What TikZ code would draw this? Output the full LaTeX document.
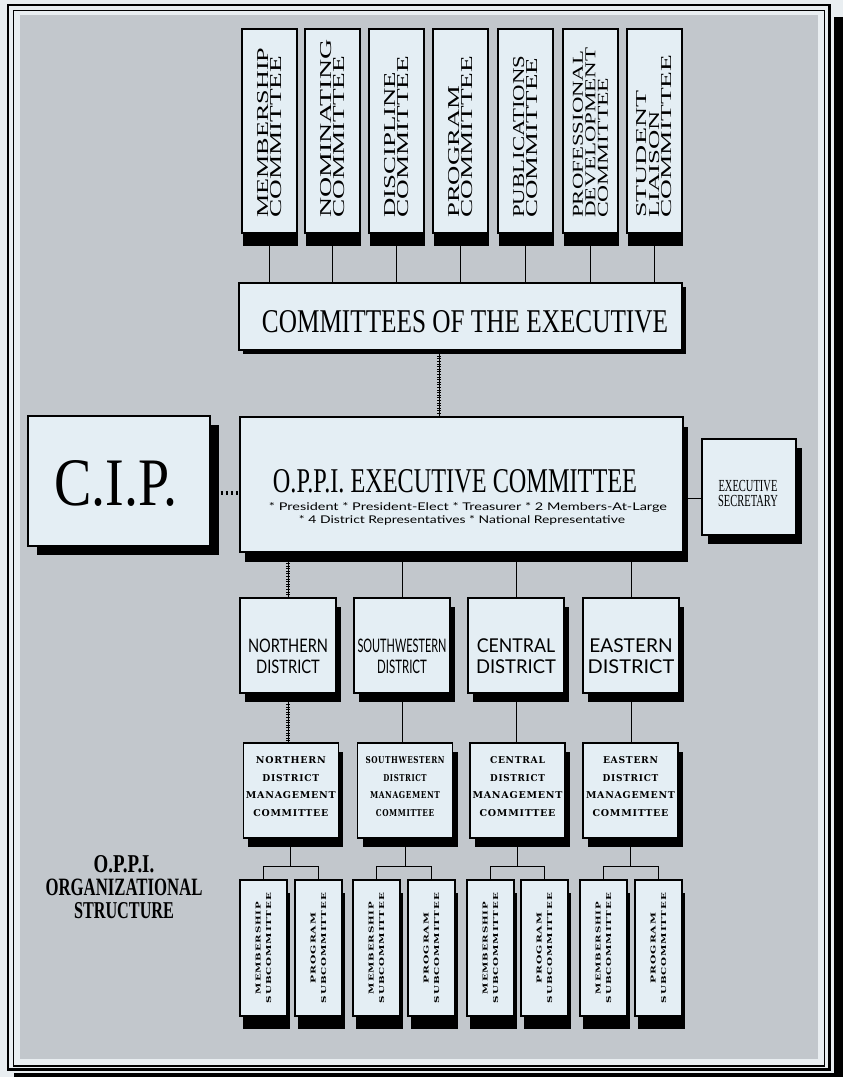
\documentclass[tikz,border=0pt]{standalone}
\usepackage{fontspec}
\usepackage{graphicx}
\setmainfont{Liberation Serif}
\newfontfamily\optfont{Lato}
\newfontfamily\cpfont[LetterSpace=8]{DejaVu Serif}
\usetikzlibrary{shadows}
% one drawing unit = one pixel of the 843 x 1077 sheet
\newdimen\upx \upx=0.75pt
% a line of text squeezed to a given width and cap height (in pixels)
\newcommand\fw[3]{\resizebox{#1\upx}{#2\upx}{#3}}
\definecolor{paper}{HTML}{E9EEF1}
\definecolor{screen}{HTML}{C2C7CC}
\definecolor{boxfill}{HTML}{E4EEF4}
\begin{document}
\begin{tikzpicture}[x=0.75pt,y=-0.75pt,
  card/.style={draw=black, line width=.8pt, fill=boxfill, inner sep=0pt},
  shad/.style 2 args={drop shadow={shadow xshift=#1, shadow yshift=#2, opacity=1, fill=black}},
  txt/.style={inner sep=0pt, align=center},
  vtext/.style={rotate=90, anchor=west, align=left, inner sep=0pt, font=\fontsize{12}{10.125}\selectfont},
  vtextthree/.style={vtext, font=\fontsize{12}{9.375}\selectfont},
  dtext/.style={txt, anchor=north, font=\optfont\fontsize{14}{15.75}\selectfont},
  mtext/.style={txt, anchor=north, font=\cpfont\bfseries\fontsize{8}{13.125}\selectfont},
  stext/.style={txt, rotate=90, font=\cpfont\bfseries\fontsize{6}{7.875}\selectfont},
  conn/.style={line width=.75pt},
  ladder/.style={conn, postaction={draw, line width=3.2pt, dash pattern=on .35pt off 1.6pt}},
  dotline/.style={line width=2.4pt, dash pattern=on 1.9pt off 1.9pt}]

\useasboundingbox (0,0) rectangle (843,1077);

% sheet, screened panel and double frame with its heavy shadow
\fill[paper] (0,0) rectangle (843,1077);
\fill[black] (834,17) rectangle (843,1077);
\fill[black] (14,1073) rectangle (843,1077);
\fill[screen] (20,15) rectangle (818,1059);
\draw[line width=1pt] (13.5,10.5) rectangle (824.5,1066);
\draw[line width=2.2pt] (8,5) rectangle (829.5,1069.5);

% standing committees
\foreach \x [count=\i] in {269.5,332.5,396.5,460.5,525.5,590.5,654.5}
  \node[card, shad={1.1pt}{-9.75pt}, minimum width=41.25pt, minimum height=153pt] (c\i) at (\x,131) {};
\node[vtext] (t1) at (269.5,218) {\fw{170}{11}{MEMBERSHIP}\\\fw{162}{11}{COMMITTEE}};
\node[vtext] (t2) at (332.5,218) {\fw{178}{11}{NOMINATING}\\\fw{162}{11}{COMMITTEE}};
\node[vtext] (t3) at (396.5,218) {\fw{146}{11}{DISCIPLINE}\\\fw{162}{11}{COMMITTEE}};
\node[vtext] (t4) at (460.5,218) {\fw{132}{11}{PROGRAM}\\\fw{162}{11}{COMMITTEE}};
\node[vtext] (t5) at (525.5,218) {\fw{162}{11}{PUBLICATIONS}\\\fw{160}{11}{COMMITTEE}};
\node[vtextthree] (t6) at (590.5,218) {\fw{167}{10}{PROFESSIONAL}\\\fw{170}{10}{DEVELOPMENT}\\\fw{140}{10}{COMMITTEE}};
\node[vtextthree] (t7) at (654.5,218) {\fw{127}{10}{STUDENT}\\\fw{107}{10}{LIAISON}\\\fw{163}{10}{COMMITTEE}};

% committees of the executive
\node[card, shad={3pt}{-3pt}, minimum width=332.25pt, minimum height=50.25pt] (coe) at (460.5,316.5) {};
\node[txt, anchor=base] (coetext) at (465,332) {\fw{406}{22}{COMMITTEES OF THE EXECUTIVE}};

% C.I.P.
\node[card, shad={7pt}{-6.75pt}, minimum width=136.5pt, minimum height=97.5pt] (cip) at (119,481) {};
\node[txt, anchor=base] (ciptext) at (115.5,505) {\fw{123}{45}{C.I.P.}};

% executive committee
\node[card, shad={3.75pt}{-7.5pt}, minimum width=332.25pt, minimum height=101.25pt] (exec) at (461.5,484.5) {};
\node[txt, anchor=base] (extitle) at (455,492) {\fw{364}{23}{O.P.P.I. EXECUTIVE COMMITTEE}};
\node[txt, anchor=base, font=\optfont] (exb1) at (468,510) {\fw{398}{8}{* President * President-Elect * Treasurer * 2 Members-At-Large}};
\node[txt, anchor=base, font=\optfont] (exb2) at (462,523.5) {\fw{326}{8}{* 4 District Representatives * National Representative}};

% executive secretary
\node[card, shad={4.5pt}{-6.75pt}, minimum width=70.5pt, minimum height=72pt] (sec) at (749,487) {};
\node[txt, anchor=north, font=\fontsize{10}{11.25}\selectfont] (sectext) at (748,480) {\fw{59}{11.2}{EXECUTIVE}\\\fw{60}{11.2}{SECRETARY}};

% districts
\foreach \x [count=\i] in {288,402,516,631}
  \node[card, shad={3.75pt}{-6.75pt}, minimum width=72pt, minimum height=71.25pt] (d\i) at (\x,645.5) {};
\node[dtext] (dt1) at (288,638.5) {\fw{80}{13.5}{NORTHERN}\\\fw{63.7}{13.5}{DISTRICT}};
\node[dtext] (dt2) at (402,638.5) {\fw{89}{13.5}{SOUTHWESTERN}\\\fw{49.7}{13.5}{DISTRICT}};
\node[dtext] (dt3) at (516,638.5) {\fw{78.3}{13.8}{CENTRAL}\\\fw{80}{13.8}{DISTRICT}};
\node[dtext] (dt4) at (631,638.5) {\fw{83.3}{13.8}{EASTERN}\\\fw{86.7}{13.8}{DISTRICT}};

% district management committees
\foreach \x [count=\i] in {290.8,405,517.5,630.5}
  \node[card, shad={3.75pt}{-6.75pt}, minimum width=71.25pt, minimum height=71.25pt] (m\i) at (\x,790.5) {};
\node[mtext] (mt1) at (290.8,756.5) {\fw{70}{7}{NORTHERN}\\\fw{56.7}{7}{DISTRICT}\\\fw{90}{7}{MANAGEMENT}\\\fw{75}{7}{COMMITTEE}};
\node[mtext] (mt2) at (405,756.5) {\fw{79}{7}{SOUTHWESTERN}\\\fw{43.3}{7}{DISTRICT}\\\fw{70}{7}{MANAGEMENT}\\\fw{58.3}{7}{COMMITTEE}};
\node[mtext] (mt3) at (517.5,756.5) {\fw{55}{7}{CENTRAL}\\\fw{54.7}{7}{DISTRICT}\\\fw{90}{7}{MANAGEMENT}\\\fw{76}{7}{COMMITTEE}};
\node[mtext] (mt4) at (630.5,756.5) {\fw{55}{7}{EASTERN}\\\fw{55.7}{7}{DISTRICT}\\\fw{89}{7}{MANAGEMENT}\\\fw{76}{7}{COMMITTEE}};

% subcommittees
\foreach \x [count=\i] in {263.5,318.5,376.5,431.5,490.5,544.5,603.5,658.5}
  \node[card, shad={2.25pt}{-9.75pt}, minimum width=35.25pt, minimum height=102pt] (s\i) at (\x,948) {};
\foreach \i in {1,3,5,7}
  \node[stext] (st\i) at (s\i) {\fw{92}{5}{MEMBERSHIP}\\\fw{110}{5}{SUBCOMMITTEE}};
\foreach \i in {2,4,6,8}
  \node[stext] (st\i) at (s\i) {\fw{70}{5}{PROGRAM}\\\fw{110}{5}{SUBCOMMITTEE}};

% caption
\node[txt, anchor=north, font=\bfseries\fontsize{20}{17.25}\selectfont] (caption) at (124,855.5)
  {\fw{60.6}{17}{O.P.P.I.}\\\fw{157}{16.5}{ORGANIZATIONAL}\\\fw{100}{16}{STRUCTURE}};

% connectors
\foreach \i in {1,...,7}
  \draw[conn] (c\i.south) -- (c\i.south |- coe.north);
\coordinate (spine) at (439,385);
\draw[ladder] (spine |- coe.south) -- (spine |- exec.north);
\coordinate (cipy) at (225,493);
\draw[dotline] (cip.east |- cipy) -- (exec.west |- cipy);
\coordinate (secy) at (692,498);
\draw[conn] (exec.east |- secy) -- (sec.west |- secy);
\draw[ladder] (d1.north |- exec.south) -- (d1.north);
\foreach \i in {2,3,4}
  \draw[conn] (d\i.north |- exec.south) -- (d\i.north);
\draw[ladder] (d1.south) -- (d1.south |- m1.north);
\foreach \i in {2,3,4}
  \draw[conn] (d\i.south) -- (d\i.south |- m\i.north);
\coordinate (bar) at (0,866);
\foreach \i/\a/\b in {1/1/2,2/3/4,3/5/6,4/7/8}{
  \draw[conn] (m\i.south) -- (m\i.south |- bar);
  \draw[conn] (s\a.north) -- (s\a.north |- bar) -- (s\b.north |- bar) -- (s\b.north);
}
\end{tikzpicture}
\end{document}
